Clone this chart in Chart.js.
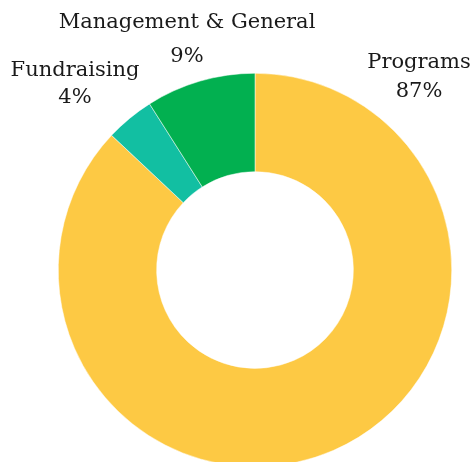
<!DOCTYPE html>
<html>
<head>
<meta charset="utf-8">
<script src="https://cdn.jsdelivr.net/npm/chart.js@4.4.1/dist/chart.umd.min.js"></script>
<style>
  html, body { margin: 0; padding: 0; background: #fff; overflow: hidden; }
  #wrap { position: relative; width: 474px; height: 540px; }
</style>
</head>
<body>
<div id="wrap"><canvas id="chart"></canvas></div>
<script>
const categories = ["Programs", "Fundraising", "Management & General"];
const percents = [87, 4, 9];
const colors = ["#FDC944", "#12BFA2", "#02B050"];

// label anchor positions (canvas px), in the same order as categories
const labelPos = [
    { x: 419, y: 63, gap: 29 },
    { x: 75, y: 71, gap: 27 },
    { x: 187, y: 23, gap: 34 }
];

const outsideLabels = {
    id: "outsideLabels",
    afterDraw(chart) {
        const ctx = chart.ctx;
        ctx.save();
        ctx.fillStyle = "#1a1a1a";
        ctx.font = "21px 'DejaVu Serif'";
        ctx.textAlign = "center";
        ctx.textBaseline = "middle";
        categories.forEach(function (name, i) {
            const p = labelPos[i];
            ctx.fillText(name, p.x, p.y);
            ctx.fillText(percents[i] + "%", p.x, p.y + p.gap);
        });
        ctx.restore();
    }
};

new Chart(document.getElementById("chart"), {
    type: "doughnut",
    data: {
        labels: categories,
        datasets: [{
            data: percents,
            backgroundColor: colors,
            borderColor: "#ffffff",
            borderWidth: 0.5
        }]
    },
    options: {
        responsive: true,
        maintainAspectRatio: false,
        animation: false,
        cutout: "50%",
        layout: { padding: { left: 58, right: 22, top: 73, bottom: 73 } },
        plugins: {
            legend: { display: false },
            tooltip: { enabled: false }
        }
    },
    plugins: [outsideLabels]
});
</script>
</body>
</html>
